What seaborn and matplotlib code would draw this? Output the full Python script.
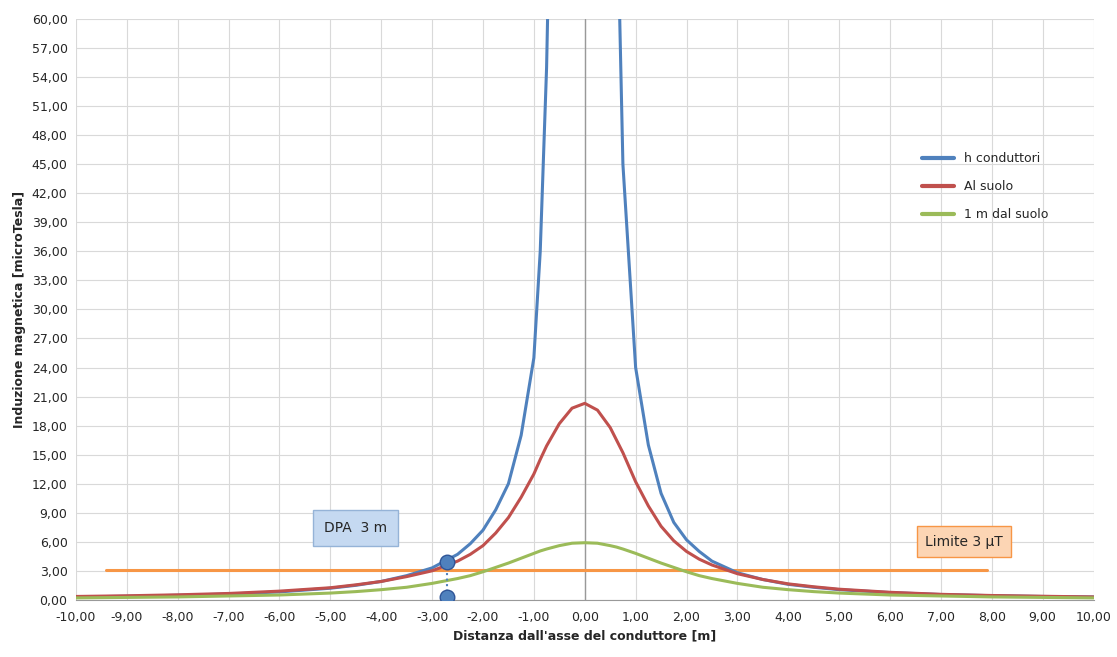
import matplotlib
matplotlib.use("Agg")
import matplotlib.pyplot as plt
import seaborn as sns
import pandas as pd

x = [-10,-9,-8,-7,-6,-5,-4.5,-4,-3.5,-3,-2.5,-2.25,-2,-1.75,-1.5,-1.25,-1,-0.875,-0.75,-0.5,-0.25,0,
     0.25,0.5,0.625,0.75,1,1.25,1.5,1.75,2,2.25,2.5,3,3.5,4,4.5,5,6,7,8,9,10]
h_cond = [0.3,0.37,0.47,0.6,0.82,1.2,1.5,1.9,2.5,3.3,4.7,5.8,7.2,9.3,12,17,25,36,55,120,160,170,
          160,120,75,45,24,16,11,8,6.2,5.0,4.0,2.8,2.1,1.6,1.3,1.05,0.75,0.55,0.43,0.35,0.3]
al_suolo = [0.35,0.42,0.52,0.66,0.9,1.25,1.55,1.9,2.4,3.0,4.0,4.7,5.6,6.9,8.5,10.6,13,14.5,15.9,18.2,19.8,20.3,
            19.6,17.8,16.5,15.2,12.2,9.7,7.6,6.1,5.0,4.2,3.6,2.7,2.1,1.65,1.35,1.1,0.78,0.57,0.45,0.37,0.3]
m1_suolo = [0.2,0.25,0.3,0.4,0.5,0.7,0.85,1.05,1.3,1.7,2.2,2.5,2.9,3.35,3.8,4.3,4.8,5.05,5.25,5.6,5.85,5.9,
            5.85,5.6,5.45,5.25,4.8,4.3,3.8,3.35,2.9,2.5,2.2,1.7,1.3,1.05,0.85,0.7,0.5,0.4,0.3,0.25,0.2]
lim_x = [-9.4, 7.9]
lim_y = [3.1, 3.1]
dpa_x = [-2.7, -2.7]
dpa_y = [3.9, 0.3]

sns.set_style("white")
plt.rcParams['font.family'] = ['DejaVu Sans']
fig = plt.figure(figsize=(11.17, 6.57), dpi=100)
ax = fig.add_axes([0.068, 0.087, 0.911, 0.884])

df = pd.DataFrame({"x": x * 3,
                   "y": h_cond + al_suolo + m1_suolo,
                   "s": ["h conduttori"] * len(x) + ["Al suolo"] * len(x) + ["1 m dal suolo"] * len(x)})
ax.plot(lim_x, lim_y, color="#F79646", lw=2.2, zorder=2)
sns.lineplot(data=df, x="x", y="y", hue="s", palette=["#4F81BD", "#C0504D", "#9BBB59"],
             lw=2.2, ax=ax, zorder=3)
ax.plot(dpa_x, dpa_y, color="#4F81BD", ls=":", lw=1.5, zorder=4)
ax.scatter(dpa_x, dpa_y, s=110, color="#4F81BD", edgecolor="#2F5597", zorder=5)

ax.set_xlim(-10, 10)
ax.set_ylim(0, 60)
ax.set_xticks(range(-10, 11))
ax.set_yticks(range(0, 61, 3))
fmt = lambda v: f"{v:.2f}".replace(".", ",")
ax.set_xticklabels([fmt(v) for v in range(-10, 11)], fontsize=9)
ax.set_yticklabels([fmt(v) for v in range(0, 61, 3)], fontsize=9)
ax.grid(True, color="#d9d9d9", lw=0.8)
ax.axvline(0, color="#999999", lw=1, zorder=1)
for s in ["top", "right", "left"]:
    ax.spines[s].set_visible(False)
ax.spines["bottom"].set_color("#999999")
ax.tick_params(axis="x", length=0, pad=8)
ax.tick_params(axis="y", length=0, pad=6)
ax.set_xlabel("Distanza dall'asse del conduttore [m]", fontsize=9, fontweight="bold")
ax.set_ylabel("Induzione magnetica [microTesla]", fontsize=9, fontweight="bold")

leg = ax.legend(loc="upper left", bbox_to_anchor=(0.82, 0.79), frameon=False, fontsize=9,
                handlelength=2.6, labelspacing=1.2, title=None)
for l in leg.get_lines():
    l.set_linewidth(3)

ax.text(-4.5, 7.4, "DPA  3 m", fontsize=10, ha="center", va="center",
        bbox=dict(boxstyle="square,pad=0.8", fc="#C5D9F1", ec="#95B3D7"))
ax.text(7.45, 6.0, "Limite 3 µT", fontsize=10, ha="center", va="center",
        bbox=dict(boxstyle="square,pad=0.6", fc="#FCD5B4", ec="#F79646"))

fig.savefig("out.png", dpi=100)
